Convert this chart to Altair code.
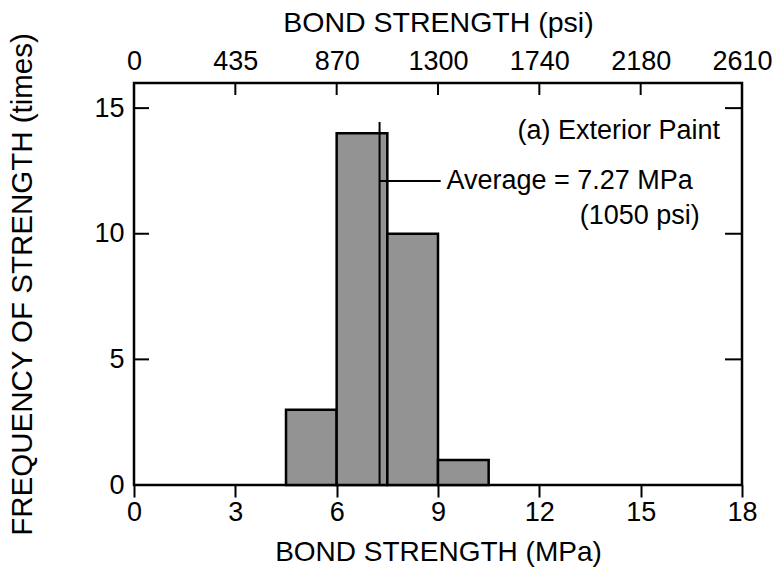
import altair as alt
import pandas as pd

# ---- data ----
bin_lo = [4.5, 6.0, 7.5, 9.0]
bin_hi = [6.0, 7.5, 9.0, 10.5]
counts = [3, 14, 10, 1]

mpa_ticks = [0, 3, 6, 9, 12, 15, 18]
psi_labels = ["0", "435", "870", "1300", "1740", "2180", "2610"]
y_ticks = [0, 5, 10, 15]

avg_mpa = 7.27
avg_line_top = 14.45
leader_y = 12.1
leader_end = 9.08

ann_text = ["Average = 7.27 MPa", "(1050 psi)", "(a) Exterior Paint"]
ann_x = [9.25, 16.75, 17.35]
ann_y = [12.1, 10.72, 14.1]
ann_align = ["left", "right", "right"]

FONT = "Liberation Sans"
W, H = 608, 402

bars_df = pd.DataFrame({"lo": bin_lo, "hi": bin_hi, "count": counts,
                        "base": [0] * len(counts)})
xt_df = pd.DataFrame({"v": mpa_ticks})
yt_df = pd.DataFrame({"v": y_ticks})
mean_df = pd.DataFrame({"x": [avg_mpa], "y0": [0], "y1": [avg_line_top]})
lead_df = pd.DataFrame({"x0": [avg_mpa], "x1": [leader_end], "y": [leader_y]})
ann_df = pd.DataFrame({"t": ann_text, "x": ann_x, "y": ann_y, "a": ann_align})

xs = alt.Scale(domain=[0, 18], nice=False, zero=False)
ys = alt.Scale(domain=[0, 16], nice=False)

psi_expr = "[" + ",".join("'%s'" % s for s in psi_labels) + "][round(datum.value/3)]"

bars = alt.Chart(bars_df).mark_bar(
    fill="#939393", stroke="black", strokeWidth=2.5
).encode(
    x=alt.X("lo:Q", scale=xs, axis=alt.Axis(
        orient="bottom", values=mpa_ticks, title="BOND STRENGTH (MPa)",
        domain=False, tickSize=12, tickWidth=2, tickColor="black",
        labelFlush=False, labelOverlap=False,
        labelPadding=2, labelFontSize=27, labelFont=FONT, labelColor="black",
        titleFont=FONT, titleFontSize=28, titleFontWeight="normal",
        titleColor="black", titlePadding=13, grid=False)),
    x2="hi:Q",
    y=alt.Y("count:Q", scale=ys, axis=alt.Axis(
        values=y_ticks, title="FREQUENCY OF STRENGTH (times)",
        domain=False, tickSize=0, labelPadding=10, labelFontSize=27,
        labelFont=FONT, labelColor="black", titleFont=FONT, titleFontSize=29.5,
        titleFontWeight="normal", titleColor="black", titlePadding=56,
        grid=False)),
    y2="base:Q",
)

top_ticks = alt.Chart(xt_df).mark_rule(color="black", strokeWidth=2).encode(
    x=alt.X("v:Q", scale=xs, axis=alt.Axis(
        orient="top", values=mpa_ticks, labelExpr=psi_expr,
        title="BOND STRENGTH (psi)", domain=False, tickSize=0,
        labelFlush=False, labelOverlap=False,
        labelPadding=8, labelFontSize=27, labelFont=FONT, labelColor="black",
        titleFont=FONT, titleFontSize=28.5, titleFontWeight="normal",
        titleColor="black", titlePadding=10, grid=False)),
    y=alt.value(0), y2=alt.value(12),
)

left_ticks = alt.Chart(yt_df).mark_rule(color="black", strokeWidth=2).encode(
    y=alt.Y("v:Q", scale=ys, axis=None),
    x=alt.value(0), x2=alt.value(15),
)
right_ticks = alt.Chart(yt_df).mark_rule(color="black", strokeWidth=2).encode(
    y=alt.Y("v:Q", scale=ys, axis=None),
    x=alt.value(W), x2=alt.value(W - 17),
)

mean_line = alt.Chart(mean_df).mark_rule(color="black", strokeWidth=2).encode(
    x=alt.X("x:Q", scale=xs, axis=None),
    y=alt.Y("y0:Q", scale=ys, axis=None), y2="y1:Q",
)
leader = alt.Chart(lead_df).mark_rule(color="black", strokeWidth=2).encode(
    x=alt.X("x0:Q", scale=xs, axis=None), x2="x1:Q",
    y=alt.Y("y:Q", scale=ys, axis=None),
)

ann_left = alt.Chart(ann_df[ann_df.a == "left"]).mark_text(
    align="left", baseline="middle", font=FONT, fontSize=27, color="black"
).encode(
    x=alt.X("x:Q", scale=xs, axis=None),
    y=alt.Y("y:Q", scale=ys, axis=None), text="t:N",
)
ann_right = alt.Chart(ann_df[ann_df.a == "right"]).mark_text(
    align="right", baseline="middle", font=FONT, fontSize=27, color="black"
).encode(
    x=alt.X("x:Q", scale=xs, axis=None),
    y=alt.Y("y:Q", scale=ys, axis=None), text="t:N",
)

chart = alt.layer(
    bars, top_ticks, left_ticks, right_ticks, mean_line, leader, ann_left, ann_right
).resolve_axis(x="independent", y="independent").properties(
    width=W, height=H,
    autosize=alt.AutoSizeParams(type="none"),
    padding={"left": 134, "top": 83, "right": 35, "bottom": 94},
    background="white",
).configure_view(stroke="black", strokeWidth=2.5)

chart.save("out.html", embed_options={"renderer": "svg", "actions": False})
